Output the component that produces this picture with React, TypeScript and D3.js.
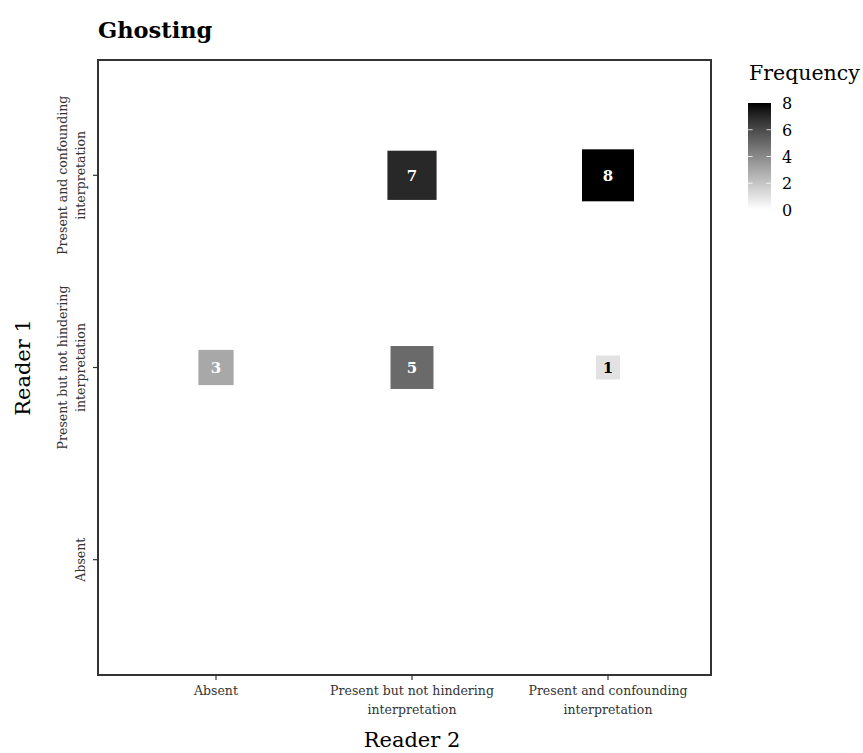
import React from "react";
import * as d3 from "d3";

// categories (bottom to top for Reader 1, left to right for Reader 2)
const levels = ["Absent", "Present but not hindering interpretation", "Present and confounding interpretation"];
const levelLines = [["Absent"], ["Present but not hindering", "interpretation"], ["Present and confounding", "interpretation"]];

// observed cells
const cellReader2 = ["Absent", "Present but not hindering interpretation", "Present and confounding interpretation", "Present but not hindering interpretation", "Present and confounding interpretation"];
const cellReader1 = ["Present but not hindering interpretation", "Present but not hindering interpretation", "Present but not hindering interpretation", "Present and confounding interpretation", "Present and confounding interpretation"];
const cellFreq = [3, 5, 1, 7, 8];

const legendTicks = [0, 2, 4, 6, 8];

const W = 863;
const H = 753;
const FONT = "'DejaVu Serif', serif";

export default function App() {
  const left = 98, right = 711, top = 60, bottom = 675;

  const x = d3.scalePoint<string>().domain(levels).range([216, 608]);
  const y = d3.scalePoint<string>().domain(levels).range([bottom, top]).padding(0.6);
  const size = d3.scalePow().exponent(0.5).domain([1, 8]).range([24, 52]);
  const fill = d3.scaleSequential(d3.interpolateRgb.gamma(1.12)("#ffffff", "#000000")).domain([0, 8]);

  const cells = cellFreq.map((f, i) => ({ r2: cellReader2[i], r1: cellReader1[i], f }));

  // legend bar
  const lbX = 748, lbW = 23;
  const ly = d3.scaleLinear().domain([0, 8]).range([210, 103]);
  const gradStops = d3.range(0, 8.01, 0.5);

  return (
    <svg width={W} height={H} style={{ position: "absolute", left: 0, top: 0, background: "#fff" }}>
      <defs>
        <linearGradient id="freqGrad" x1="0" y1="1" x2="0" y2="0">
          {gradStops.map((v) => (
            <stop key={v} offset={v / 8} stopColor={fill(v)} />
          ))}
        </linearGradient>
      </defs>

      <text x={98} y={38} fontFamily={FONT} fontWeight="bold" fontSize={22.5} fill="#000">Ghosting</text>

      {/* cells */}
      {cells.map((c, i) => {
        const s = size(c.f);
        const cx = x(c.r2)!;
        const cy = y(c.r1)!;
        return (
          <g key={i}>
            <rect x={cx - s / 2} y={cy - s / 2} width={s} height={s} fill={fill(c.f)} />
            <text x={cx} y={cy + 5.5} textAnchor="middle" fontFamily={FONT} fontWeight="bold" fontSize={15}
              fill={c.f >= 3 ? "#ffffff" : "#000000"}>{c.f}</text>
          </g>
        );
      })}

      {/* panel border */}
      <rect x={left} y={top} width={right - left} height={bottom - top} fill="none" stroke="#333" strokeWidth={2} />

      {/* x axis */}
      {levels.map((lv, i) => (
        <g key={lv}>
          <line x1={x(lv)} x2={x(lv)} y1={bottom} y2={bottom + 5} stroke="#333" strokeWidth={1.2} />
          {levelLines[i].map((ln, j) => (
            <text key={j} x={x(lv)} y={bottom + 20 + j * 19} textAnchor="middle" fontFamily={FONT} fontSize={12.5} fill="#333">{ln}</text>
          ))}
        </g>
      ))}
      <text x={x(levels[1])} y={747} textAnchor="middle" fontFamily={FONT} fontSize={21} fill="#000">Reader 2</text>

      {/* y axis */}
      {levels.map((lv, i) => {
        const n = levelLines[i].length;
        return (
          <g key={lv}>
            <line x1={left - 5} x2={left} y1={y(lv)} y2={y(lv)} stroke="#333" strokeWidth={1.2} />
            {levelLines[i].map((ln, j) => {
              const bx = 85 - (n - 1 - j) * 18;
              return (
                <text key={j} transform={`translate(${bx},${y(lv)}) rotate(-90)`} textAnchor="middle"
                  fontFamily={FONT} fontSize={12.5} fill="#333">{ln}</text>
              );
            })}
          </g>
        );
      })}
      <text transform={`translate(30,${(top + bottom) / 2}) rotate(-90)`} textAnchor="middle" fontFamily={FONT} fontSize={21} fill="#000">Reader 1</text>

      {/* legend */}
      <text x={749} y={80} fontFamily={FONT} fontSize={20.5} fill="#000">Frequency</text>
      <rect x={lbX} y={ly(8)} width={lbW} height={ly(0) - ly(8)} fill="url(#freqGrad)" />
      {legendTicks.map((t) => (
        <g key={t}>
          {t > 0 && t < 8 && (
            <>
              <line x1={lbX} x2={lbX + lbW / 5} y1={ly(t)} y2={ly(t)} stroke="#fff" strokeWidth={0.8} />
              <line x1={lbX + lbW - lbW / 5} x2={lbX + lbW} y1={ly(t)} y2={ly(t)} stroke="#fff" strokeWidth={0.8} />
            </>
          )}
          <text x={782} y={ly(t) + 6} fontFamily={FONT} fontSize={16} fill="#000">{t}</text>
        </g>
      ))}
    </svg>
  );
}
